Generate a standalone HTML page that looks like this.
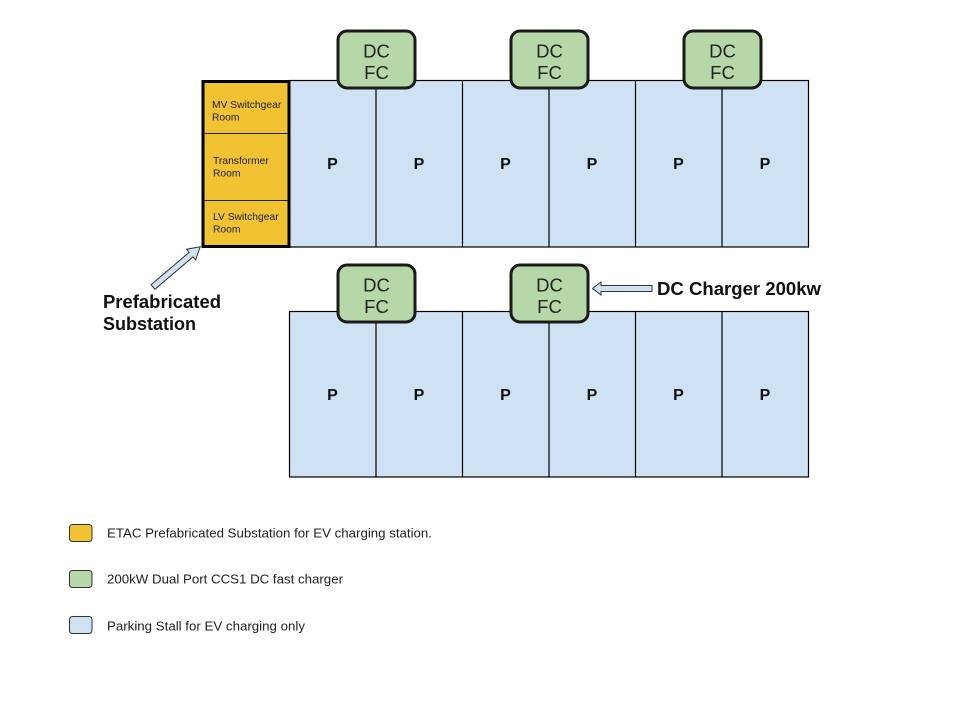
<!DOCTYPE html>
<html>
<head>
<meta charset="utf-8">
<style>
html,body{margin:0;padding:0;background:#fff;}
svg{display:block;}
text{font-family:"Liberation Sans",Arial,sans-serif;}
</style>
</head>
<body>
<svg width="960" height="720" viewBox="0 0 960 720" xmlns="http://www.w3.org/2000/svg">
<rect x="0" y="0" width="960" height="720" fill="#ffffff"/>

<!-- Top row stalls -->
<g stroke="#000" stroke-width="1.2" fill="#cfe2f3">
  <rect x="289.5" y="80.5" width="519" height="166.5"/>
  <line x1="376" y1="80.5" x2="376" y2="247"/>
  <line x1="462.5" y1="80.5" x2="462.5" y2="247"/>
  <line x1="549" y1="80.5" x2="549" y2="247"/>
  <line x1="635.5" y1="80.5" x2="635.5" y2="247"/>
  <line x1="722" y1="80.5" x2="722" y2="247"/>
</g>
<g font-weight="bold" font-size="16" fill="#111" text-anchor="middle">
  <text x="332.5" y="169">P</text>
  <text x="419" y="169">P</text>
  <text x="505.5" y="169">P</text>
  <text x="592" y="169">P</text>
  <text x="678.5" y="169">P</text>
  <text x="765" y="169">P</text>
</g>

<!-- Bottom row stalls -->
<g stroke="#000" stroke-width="1.2" fill="#cfe2f3">
  <rect x="289.5" y="311.5" width="519" height="165.5"/>
  <line x1="376" y1="311.5" x2="376" y2="477"/>
  <line x1="462.5" y1="311.5" x2="462.5" y2="477"/>
  <line x1="549" y1="311.5" x2="549" y2="477"/>
  <line x1="635.5" y1="311.5" x2="635.5" y2="477"/>
  <line x1="722" y1="311.5" x2="722" y2="477"/>
</g>
<g font-weight="bold" font-size="16" fill="#111" text-anchor="middle">
  <text x="332.5" y="400">P</text>
  <text x="419" y="400">P</text>
  <text x="505.5" y="400">P</text>
  <text x="592" y="400">P</text>
  <text x="678.5" y="400">P</text>
  <text x="765" y="400">P</text>
</g>

<!-- Substation -->
<rect x="203" y="81.5" width="86" height="165" fill="#f1c232" stroke="#000" stroke-width="3"/>
<line x1="204" y1="133.5" x2="288" y2="133.5" stroke="#222" stroke-width="1"/>
<line x1="204" y1="200.5" x2="288" y2="200.5" stroke="#222" stroke-width="1"/>
<g font-size="10.3" fill="#222">
  <text x="212" y="108">MV Switchgear</text>
  <text x="212" y="120.5">Room</text>
  <text x="213" y="164">Transformer</text>
  <text x="213" y="176.5">Room</text>
  <text x="213" y="220">LV Switchgear</text>
  <text x="213" y="232.5">Room</text>
</g>

<!-- DC FC boxes -->
<g fill="#b6d7a8" stroke="#1a1a1a" stroke-width="3">
  <rect x="338" y="31" width="77" height="57" rx="9" ry="9"/>
  <rect x="511" y="31" width="77" height="57" rx="9" ry="9"/>
  <rect x="684" y="31" width="77" height="57" rx="9" ry="9"/>
  <rect x="338" y="265" width="77" height="57" rx="9" ry="9"/>
  <rect x="511" y="265" width="77" height="57" rx="9" ry="9"/>
</g>
<g font-size="18.5" fill="#222" text-anchor="middle">
  <text x="376.5" y="57.5">DC</text>
  <text x="376.5" y="79">FC</text>
  <text x="549.5" y="57.5">DC</text>
  <text x="549.5" y="79">FC</text>
  <text x="722.5" y="57.5">DC</text>
  <text x="722.5" y="79">FC</text>
  <text x="376.5" y="291.5">DC</text>
  <text x="376.5" y="313">FC</text>
  <text x="549.5" y="291.5">DC</text>
  <text x="549.5" y="313">FC</text>
</g>

<!-- Diagonal arrow to substation -->
<g transform="translate(153,287) rotate(-40.4)">
  <polygon points="0,-3 50,-3 50,-7 62,0 50,7 50,3 0,3" fill="#cfe2f3" stroke="#333" stroke-width="1"/>
</g>
<g font-weight="bold" font-size="18" fill="#111">
  <text x="103" y="308" textLength="118" lengthAdjust="spacingAndGlyphs">Prefabricated</text>
  <text x="103" y="330">Substation</text>
</g>

<!-- Horizontal arrow DC charger -->
<polygon points="652,285.5 601,285.5 601,282 592.5,288.5 601,295 601,291.5 652,291.5" fill="#cfe2f3" stroke="#333" stroke-width="1"/>
<text x="657" y="295" font-weight="bold" font-size="18" fill="#111" textLength="164" lengthAdjust="spacingAndGlyphs">DC Charger 200kw</text>

<!-- Legend -->
<g stroke="#333" stroke-width="1">
  <rect x="69.5" y="524.5" width="22.5" height="17" rx="3" ry="3" fill="#f1c232"/>
  <rect x="69.5" y="570.5" width="22.5" height="17" rx="3" ry="3" fill="#b6d7a8"/>
  <rect x="69.5" y="616.5" width="22.5" height="17" rx="3" ry="3" fill="#cfe2f3"/>
</g>
<g font-size="13" fill="#222">
  <text x="107" y="537.5" textLength="325" lengthAdjust="spacingAndGlyphs">ETAC Prefabricated Substation for EV charging station.</text>
  <text x="107" y="583.5" textLength="236" lengthAdjust="spacingAndGlyphs">200kW Dual Port CCS1 DC fast charger</text>
  <text x="107" y="630.5" textLength="198" lengthAdjust="spacingAndGlyphs">Parking Stall for EV charging only</text>
</g>
</svg>
</body>
</html>
